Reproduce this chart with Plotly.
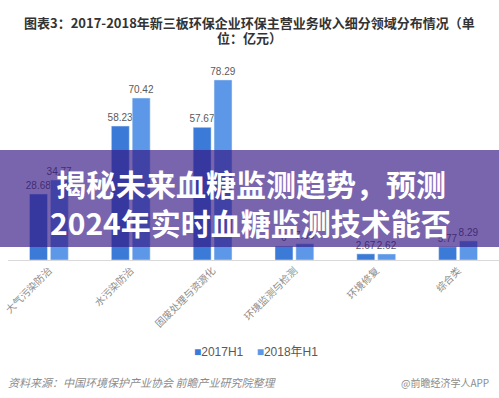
import plotly.graph_objects as go

categories = ["大气污染防治", "水污染防治", "固废处理与资源化", "环境监测与检测", "环境修复", "综合类"]
series_2017 = [28.68, 58.23, 57.67, 6.0, 2.67, 5.77]
series_2018 = [34.77, 70.42, 78.29, 7.06, 2.62, 8.29]
series_names = ["2017H1", "2018年H1"]
series_colors = ["#3b7ad6", "#5d98e8"]
title_lines = ["图表3：2017-2018年新三板环保企业环保主营业务收入细分领域分布情况（单", "位：亿元）"]
banner_lines = ["揭秘未来血糖监测趋势，预测", "2024年实时血糖监测技术能否"]
source_text = "资料来源：中国环境保护产业协会 前瞻产业研究院整理"
brand_text = "@前瞻经济学人APP"

W, H = 499, 398
ML, MR, MT, MB = 8, 0, 53, 138
PW = W - ML - MR
PH = H - MT - MB


def px(x):
    return (x - ML) / PW


def py(y):
    return (H - MB - y) / PH


FONT = "Liberation Sans, Noto Sans CJK SC, sans-serif"
CJK = "Noto Sans CJK SC, sans-serif"

fig = go.Figure()
for vals, name, col in [(series_2017, series_names[0], series_colors[0]),
                        (series_2018, series_names[1], series_colors[1])]:
    fig.add_trace(go.Bar(x=categories, y=vals, name=name,
                         marker_color=col, text=vals,
                         texttemplate="%{y}", textposition="outside", constraintext="none",
                         textfont=dict(color="#5a5a5a", size=10, family=FONT),
                         cliponaxis=False, showlegend=False))

fig.update_layout(
    width=W, height=H,
    margin=dict(l=ML, r=MR, t=MT, b=MB, pad=0),
    paper_bgcolor="white", plot_bgcolor="white",
    barmode="group", bargap=0.49, bargroupgap=0.14,
    font=dict(family=FONT, color="#595959"),
    showlegend=False,
    xaxis=dict(showline=True, linecolor="#d9d9d9", linewidth=1, ticks="",
               tickangle=-45, tickfont=dict(size=10, color="#8c8c8c", family=CJK),
               showgrid=False),
    yaxis=dict(range=[0, 90], visible=False, showgrid=False, zeroline=False),
)

# legend (as text entries with coloured squares)
legend_text = "&nbsp;&nbsp;&nbsp;&nbsp;".join(
    f'<span style="color:{c}">■</span>{n}' for n, c in zip(series_names, series_colors))
fig.add_annotation(text=legend_text, xref="paper", yref="paper", x=px(256), y=py(352),
                   showarrow=False, xanchor="center", yanchor="middle",
                   font=dict(size=12, color="#595959", family=FONT))

# title
fig.add_annotation(text=title_lines[0], xref="paper", yref="paper", x=px(249), y=py(22),
                   showarrow=False, xanchor="center", yanchor="middle",
                   font=dict(size=13, color="#333333", family=CJK, weight="bold"))
fig.add_annotation(text=title_lines[1], xref="paper", yref="paper", x=px(249), y=py(38),
                   showarrow=False, xanchor="center", yanchor="middle",
                   font=dict(size=13, color="#333333", family=CJK, weight="bold"))

# banner overlay
fig.add_shape(type="rect", xref="paper", yref="paper", x0=px(0), x1=px(W), y0=py(247), y1=py(150),
              fillcolor="rgba(52,22,130,0.66)", line=dict(width=0), layer="above")
fig.add_annotation(text=banner_lines[0], xref="paper", yref="paper", x=px(251), y=py(183),
                   showarrow=False, xanchor="center", yanchor="middle",
                   font=dict(size=30, color="white", family=CJK, weight="bold"))
fig.add_annotation(text=banner_lines[1], xref="paper", yref="paper", x=px(250), y=py(222),
                   showarrow=False, xanchor="center", yanchor="middle",
                   font=dict(size=30, color="white", family=CJK, weight="bold"))

# source
fig.add_annotation(text="<i>" + source_text + "</i>", xref="paper", yref="paper", x=px(6), y=py(382),
                   showarrow=False, xanchor="left", yanchor="middle",
                   font=dict(size=11, color="#8c8c8c", family=CJK))
fig.add_annotation(text=brand_text, xref="paper", yref="paper", x=px(491), y=py(382),
                   showarrow=False, xanchor="right", yanchor="middle",
                   font=dict(size=10, color="#8c8c8c", family=CJK))

fig.write_html("out.html")
